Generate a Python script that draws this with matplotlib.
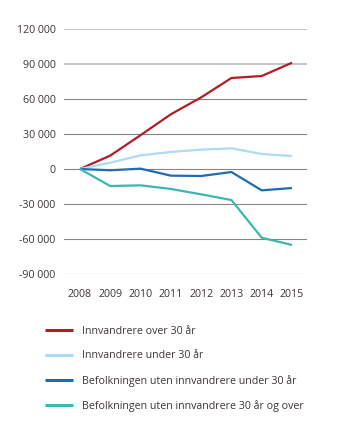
import matplotlib
matplotlib.use("Agg")
import matplotlib.pyplot as plt
from matplotlib.ticker import FuncFormatter

years = [2008, 2009, 2010, 2011, 2012, 2013, 2014, 2015]
innv_over30 = [0, 11500, 29000, 46900, 61400, 78000, 79700, 91100]
innv_under30 = [0, 5400, 11700, 14600, 16600, 17700, 12900, 11100]
bef_under30 = [0, -1100, 300, -5700, -6000, -2600, -18300, -16300]
bef_over30 = [0, -14600, -14000, -17100, -21700, -26600, -58900, -65100]

labels = [
    "Innvandrere over 30 år",
    "Innvandrere under 30 år",
    "Befolkningen uten innvandrere under 30 år",
    "Befolkningen uten innvandrere 30 år og over",
]
colors = ["#b01d24", "#aadcf4", "#1f6cb1", "#3cb7ae"]
yticks = [-90000, -60000, -30000, 0, 30000, 60000, 90000, 120000]

plt.rcParams["font.family"] = ["Open Sans", "DejaVu Sans"]
text_color = "#3d3535"

W, H = 345, 425
fig = plt.figure(figsize=(W / 100, H / 100), dpi=100)
ax = fig.add_axes([64 / W, 1 - 274 / H, (307 - 64) / W, (274 - 29) / H])

# gridlines (top two lighter, as in reference)
for v in yticks:
    if v >= 90000:
        ax.axhline(v, color="#c4c4c4", lw=1.4, zorder=0)
    else:
        ax.axhline(v, color="#858585", lw=0.8, zorder=0)

series = [innv_over30, innv_under30, bef_under30, bef_over30]
for vals, lab, c in zip(series, labels, colors):
    ax.plot(years, vals, color=c, lw=1.6, label=lab, solid_capstyle="butt")

ax.set_xlim(2008 - 16 / 30.3, 2015 + 15 / 30.3)
ax.set_ylim(-90000, 120000)
ax.set_yticks(yticks)
ax.yaxis.set_major_formatter(FuncFormatter(lambda v, p: f"{int(v):,}".replace(",", " ")))
ax.set_xticks(years)
ax.tick_params(axis="both", length=0, labelsize=7.7, colors=text_color)
ax.tick_params(axis="y", pad=6)
ax.tick_params(axis="x", pad=11)
for s in ax.spines.values():
    s.set_visible(False)

handles, labs = ax.get_legend_handles_labels()
leg = fig.legend(handles, labs, loc="upper left", bbox_to_anchor=(45 / W, 1 - 326 / H),
                 frameon=False, fontsize=7.7, handlelength=2.6, handletextpad=0.85,
                 labelspacing=1.25, borderaxespad=0, borderpad=0)
for t in leg.get_texts():
    t.set_color(text_color)
for l in leg.get_lines():
    l.set_linewidth(2.2)

fig.savefig("out.png", dpi=100)
